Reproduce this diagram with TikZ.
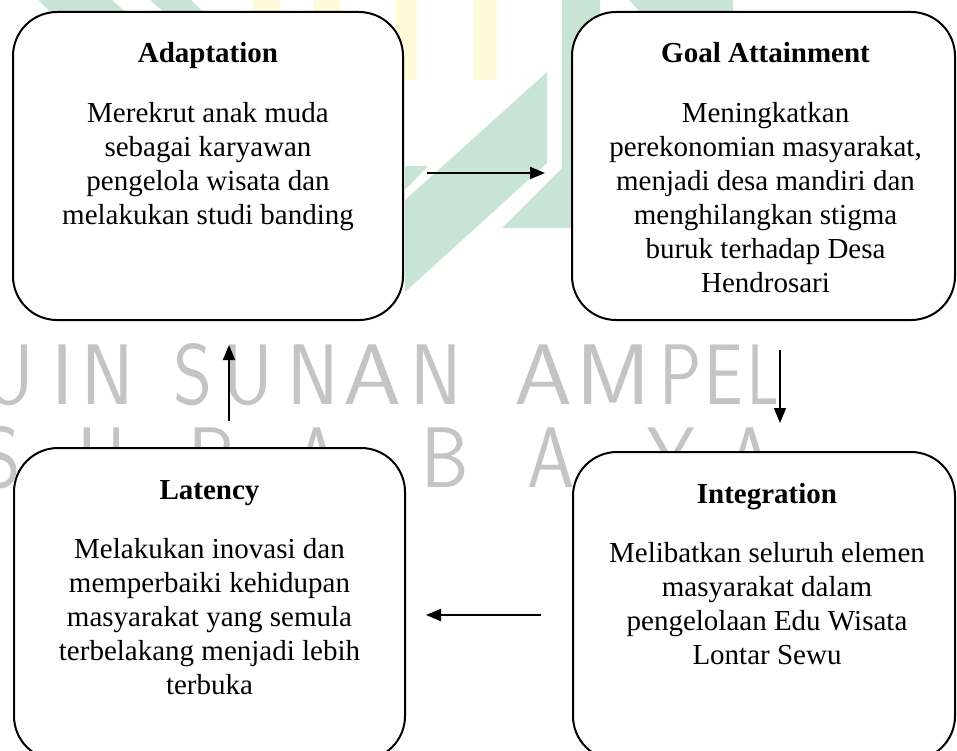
\documentclass[tikz,border=0pt]{standalone}
\usepackage{fontspec}
\setmainfont{Liberation Serif}
\usetikzlibrary{arrows.meta,calc}
\definecolor{wmgreen}{RGB}{200,228,212}
\definecolor{wmyellow}{RGB}{255,251,218}
\definecolor{wmgray}{RGB}{196,196,196}
\tikzset{
  cardbox/.style={draw=black, line width=2pt, fill=white, rounded corners=44pt, inner sep=0pt},
  cardtitle/.style={inner sep=0pt, anchor=base, font=\fontsize{29}{34}\selectfont\bfseries},
  cardbody/.style={inner sep=0pt, anchor=north, align=center, font=\fontsize{29}{34}\selectfont},
  flow/.style={line width=2pt, -{Triangle[length=15pt,width=12pt]}},
  wmtext/.style={inner sep=0pt, anchor=base, text=wmgray, font=\fontsize{86}{86}\selectfont\sffamily},
  logogreen/.style={fill=wmgreen, draw=none},
  logoyellow/.style={fill=wmyellow, draw=none}
}
\newcommand{\firstline}{\rule{0pt}{24pt}}
\begin{document}
\begin{tikzpicture}[x=1pt, y=-1pt]
  \useasboundingbox (0,0) rectangle (957,751);
  \clip (0,0) rectangle (957,751);

  % faint logo pieces of the watermark
  \fill[logogreen] (38,0) -- (112,0) -- (128,14) -- (52,14) -- cycle;
  \fill[logogreen] (150,0) -- (191,0) -- (205,14) -- (166,14) -- cycle;
  \fill[logoyellow] (253,0) rectangle (280,12);
  \fill[logoyellow] (314,0) rectangle (341,12);
  \fill[logoyellow] (395,0) rectangle (417,80);
  \fill[logoyellow] (473,0) rectangle (497,80);
  \fill[logogreen] (547,72) -- (547,163) -- (405,292) -- (405,200) -- cycle;
  \fill[logogreen] (405,166) -- (428,166) -- (405,190) -- cycle;
  \fill[logogreen] (562,0) -- (600,0) -- (600,228) -- (502,228) -- (562,168) -- cycle;
  \fill[logogreen] (629,0) -- (733,0) -- (733,12) -- (640,12) -- cycle;

  % watermark text, first row
  \foreach \ch/\xx/\sx [count=\k] in {U/8.5/0.92, I/62.5/1, N/108/0.92, S/193.5/0.87, U/247.5/0.92,
                                      N/313/0.9, A/372.5/1.08, N/436.5/0.9, A/543.5/1.08,
                                      M/613.5/1.05, P/681/0.82, E/724/0.8, L/763/0.72}
    \node[wmtext, name=wmtop\k] at (\xx,404) {\scalebox{\sx}[1]{\ch}};
  % watermark text, second row
  \foreach \ch/\xx [count=\k] in {S/1.5, U/102, R/211, A/317.5, B/445.5, A/551, Y/671.5, A/750.5}
    \node[wmtext, name=wmbot\k] at (\xx,487) {\scalebox{0.88}[1]{\ch}};

  % boxes
  \node[cardbox, minimum width=390pt, minimum height=308pt] (adapt) at (208,166) {};
  \node[cardbox, minimum width=383pt, minimum height=308pt] (goal)  at (763.5,166) {};
  \node[cardbox, minimum width=391pt, minimum height=312pt] (lat)   at (209.5,604) {};
  \node[cardbox, minimum width=382pt, minimum height=308pt] (integ) at (764,606) {};

  % titles
  \node[cardtitle] (adaptT) at ($(adapt.north)+(0,52)$) {Adaptation};
  \node[cardtitle] (goalT)  at ($(goal.north)+(2,52)$) {Goal Attainment};
  \node[cardtitle] (latT)   at ($(lat.north)+(0,52)$) {Latency};
  \node[cardtitle] (integT) at ($(integ.north)+(3,52)$) {Integration};

  % bodies
  \node[cardbody] (adaptB) at ($(adapt.north)+(0,87)$)
    {\firstline Merekrut anak muda\\sebagai karyawan\\pengelola wisata dan\\melakukan studi banding};
  \node[cardbody] (goalB) at ($(goal.north)+(2,87)$)
    {\firstline Meningkatkan\\perekonomian masyarakat,\\menjadi desa mandiri dan\\menghilangkan stigma\\buruk terhadap Desa\\Hendrosari};
  \node[cardbody] (latB) at ($(lat.north)+(0,87)$)
    {\firstline Melakukan inovasi dan\\memperbaiki kehidupan\\masyarakat yang semula\\terbelakang menjadi lebih\\terbuka};
  \node[cardbody] (integB) at ($(integ.north)+(3,87)$)
    {\firstline Melibatkan seluruh elemen\\masyarakat dalam\\pengelolaan Edu Wisata\\Lontar Sewu};

  % arrow end points
  \coordinate (r1) at (427,173);
  \coordinate (r2) at (545,173);
  \coordinate (d1) at (780,350);
  \coordinate (d2) at (780,423);
  \coordinate (l1) at (541,615);
  \coordinate (l2) at (426,615);
  \coordinate (u1) at (229,421);
  \coordinate (u2) at (229,345);

  \draw[flow] (r1) -- (r2);
  \draw[flow] (d1) -- (d2);
  \draw[flow] (l1) -- (l2);
  \draw[flow] (u1) -- (u2);
\end{tikzpicture}
\end{document}
